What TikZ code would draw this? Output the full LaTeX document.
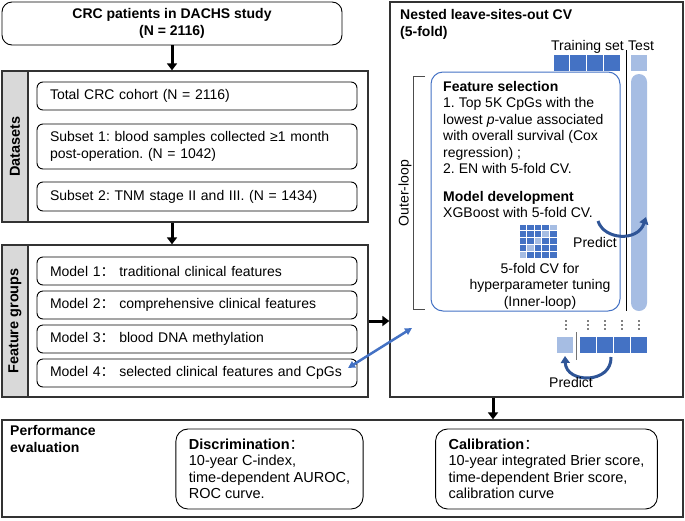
\documentclass[tikz,border=0pt]{standalone}
\usepackage{fontspec}
\setmainfont{Liberation Sans}
\newfontfamily\cjk{Noto Sans CJK SC}
\usetikzlibrary{arrows.meta}
\frenchspacing

\definecolor{darkblue}{HTML}{4472C4}
\definecolor{lightblue}{HTML}{A6BDE3}
\definecolor{stripgray}{HTML}{D9D9D9}
\definecolor{arrowblue}{HTML}{2F5597}

\begin{document}
\begin{tikzpicture}[x=1pt,y=-1pt,font=\fontsize{14pt}{16.5pt}\selectfont,
    panel/.style={draw=black!80,line width=1.3pt,inner sep=0},
    sidestrip/.style={panel,fill=stripgray,rotate=90,font=\fontsize{14.5pt}{16pt}\selectfont\bfseries},
    itembox/.style={draw,rounded corners=6pt,line width=0.9pt,inner xsep=13pt,inner ysep=0pt,align=left},
    flow/.style={-{Triangle[length=7pt,width=10pt]},line width=3pt},
    curvy/.style={-{Triangle[length=7pt,width=9pt]},line width=3pt,draw=arrowblue}]
    \pgfmathsetmacro{\itemwidth}{294}
    \pgfmathsetmacro{\blockwidth}{16.75}
    \pgfmathsetmacro{\cellwidth}{7.6}
    \pgfmathsetmacro{\cellheight}{6.8}
    \providecommand{\headfont}{\bfseries}
    \useasboundingbox (0,0) rectangle (685,520);
    \node[itembox,rounded corners=10pt,align=center,minimum width=340pt,minimum height=43pt,font=\fontsize{14pt}{17pt}\selectfont\headfont] (patients) at (172,23.5) {CRC patients in DACHS study\\(N = 2116)};

    \node[panel,minimum width=366pt,minimum height=151pt] (datasets) at (185,146.5) {};
    \node[sidestrip,minimum width=151pt,minimum height=26pt] (datastrip) at (15,146.5) {Datasets};
    \node[itembox,text width=\itemwidth pt,minimum height=28pt] (total) at (197,96) {Total CRC cohort (N = 2116)};
    \node[itembox,text width=\itemwidth pt,minimum height=45pt] (subset1) at (197,146.5) {Subset 1: blood samples collected ≥1 month\\post-operation. (N = 1042)};
    \node[itembox,text width=\itemwidth pt,minimum height=29pt] (subset2) at (197,196.5) {Subset 2: TNM stage II and III. (N = 1434)};

    \node[panel,minimum width=366pt,minimum height=152pt] (features) at (185,321) {};
    \node[sidestrip,minimum width=152pt,minimum height=26pt] (featstrip) at (15,321) {Feature groups};
    \foreach \i/\txt [evaluate=\i as \yc using 271+34*(\i-1)] in {1/traditional clinical features,2/comprehensive clinical features,3/blood DNA methylation,4/selected clinical features and CpGs}
        \node[itembox,text width=\itemwidth pt,minimum height=28pt] (model\i) at (197,\yc) {Model \i{\cjk ：} \txt};

    \draw[flow] (patients.south) -- (patients.south |- datasets.north);
    \draw[flow] (patients.south |- datasets.south) -- (patients.south |- features.north);

    \node[panel,minimum width=293pt,minimum height=395pt] (cv) at (536.5,199.5) {};
    \node[anchor=north west,align=left,inner sep=0,font=\fontsize{14pt}{17pt}\selectfont\headfont] (cvtitle) at (400,9) {Nested leave-sites-out CV\\(5-fold)};
    \node[anchor=base west,inner sep=0] (trainlabel) at (551,50) {Training set};
    \node[anchor=base west,inner sep=0] (testlabel) at (628,50) {Test};
    \draw[line width=0.8pt] (626,50) -- (626,311);
    \foreach \k in {0,...,3}
        \fill[darkblue] (553+\k*\blockwidth+0.5,55) rectangle ++(\blockwidth-1,16);
    \fill[lightblue] (631,55) rectangle (647,71);
    \fill[lightblue,rounded corners=8pt] (631,74) rectangle (647,311);

    \node[draw=darkblue,line width=1pt,rounded corners=12pt,minimum width=189pt,minimum height=239pt,inner sep=0] (inner) at (525.5,191.5) {};
    \draw[black!70,line width=0.7pt] (425,76) -- (413,76) -- (413,309) -- (425,309);
    \node[rotate=90,inner sep=0] (outerlabel) at (405,193) {Outer-loop};
    \node[anchor=north west,align=left,inner sep=0] (selection) at (443,81) {\textbf{Feature selection}\\1. Top 5K CpGs with the\\lowest \textit{p}-value associated\\with overall survival (Cox\\regression) ;\\2. EN with 5-fold CV.};
    \node[anchor=north west,align=left,inner sep=0] (development) at (443,191) {\textbf{Model development}\\XGBoost with 5-fold CV.};
    \foreach \r in {1,...,5}
        \foreach \c in {1,...,5} {
            \ifnum\numexpr\r+\c\relax=6 \def\gridcol{lightblue}\else\def\gridcol{darkblue}\fi
            \fill[\gridcol] (519+\c*\cellwidth-\cellwidth+0.5,224+\r*\cellheight-\cellheight+0.5) rectangle ++(\cellwidth-1,\cellheight-1);
        }
    \node[anchor=base,inner sep=0] (predicttop) at (595,247) {Predict};
    \node[anchor=north,align=center,inner sep=0] (tuning) at (540,263) {5-fold CV for\\hyperparameter tuning\\(Inner-loop)};
    \coordinate (xgbtail) at (598,221);
    \coordinate (testhead) at (646,217);
    \draw[curvy] (xgbtail) .. controls (604,240) and (638,242) .. (testhead);

    \foreach \x in {566,588,605,622,639}
        \foreach \y in {321,325,329}
            \fill (\x,\y) circle (0.8pt);
    \fill[lightblue] (557,337) rectangle (573,353);
    \draw[black!55,line width=0.8pt] (576,332) -- (576,360);
    \foreach \k in {0,...,3}
        \fill[darkblue] (579+\k*17+0.5,337) rectangle ++(16,16);
    \coordinate (foldtail) at (611,357);
    \coordinate (foldhead) at (565,356);
    \draw[curvy] (foldtail) .. controls (612,384) and (566,384) .. (foldhead);
    \node[anchor=base,inner sep=0] (predictbottom) at (571,387) {Predict};

    \draw[flow] (features.east) -- (features.east -| cv.west);
    \coordinate (modelpoint) at (348,368);
    \coordinate (cvpoint) at (412,328);
    \draw[{Triangle[length=7pt,width=7pt]}-{Triangle[length=7pt,width=7pt]},line width=2.5pt,darkblue] (modelpoint) -- (cvpoint);

    \node[panel,minimum width=681pt,minimum height=97pt] (performance) at (342.5,468.5) {};
    \draw[flow] ([xshift=-43.5pt]cv.south) -- ([xshift=-43.5pt]cv.south |- performance.north);
    \node[anchor=north west,align=left,inner sep=0,font=\fontsize{14pt}{17pt}\selectfont\headfont] (perftitle) at (10,425) {Performance\\evaluation};
    \node[itembox,rounded corners=12pt,minimum width=185pt,minimum height=80pt,font=\fontsize{14.5pt}{16.5pt}\selectfont] (discrimination) at (269.5,469) {\textbf{Discrimination}{\cjk ：}\\10-year C-index,\\time-dependent AUROC,\\ROC curve.};
    \node[itembox,rounded corners=12pt,minimum width=217pt,minimum height=80pt,font=\fontsize{14.5pt}{16.5pt}\selectfont] (calibration) at (546.5,469) {\textbf{Calibration}{\cjk ：}\\10-year integrated Brier score,\\time-dependent Brier score,\\calibration curve};
\end{tikzpicture}
\end{document}
